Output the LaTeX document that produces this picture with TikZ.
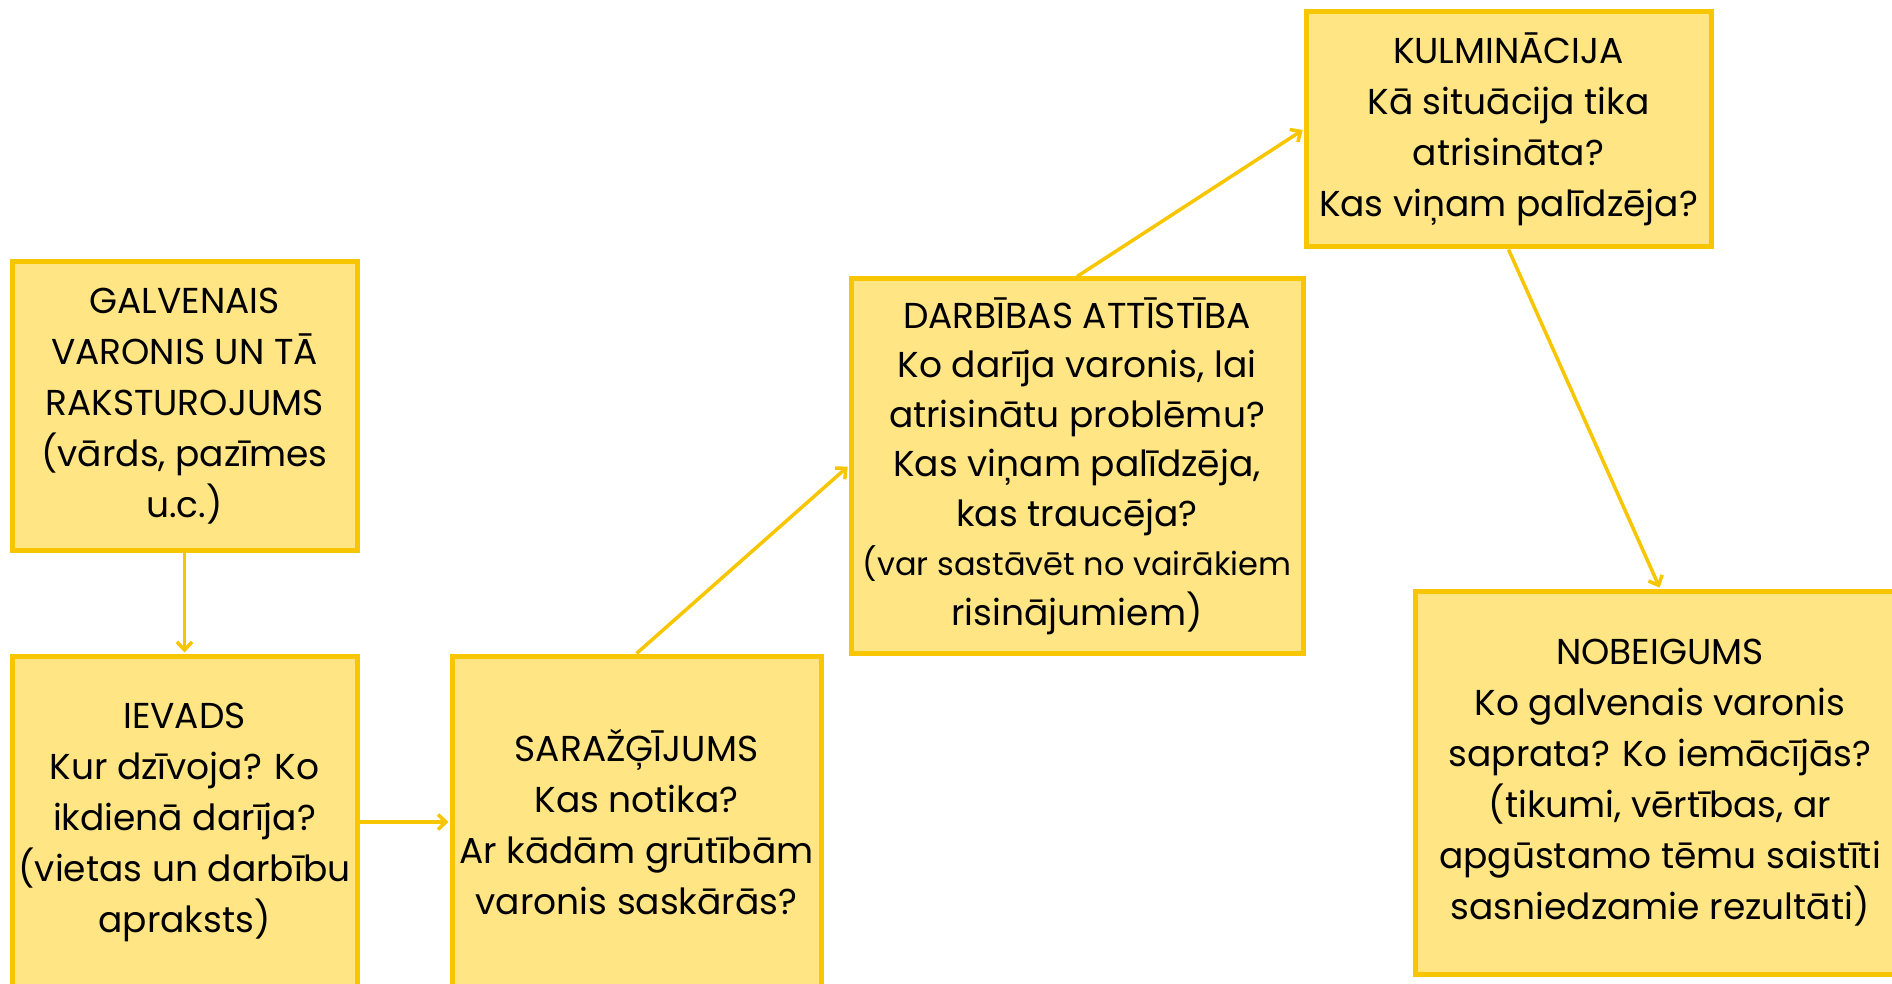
\documentclass[tikz,border=0pt]{standalone}
\usepackage{fontspec}
\setmainfont{Poppins}
\usetikzlibrary{arrows.meta}
\definecolor{boxfill}{HTML}{FFE583}
\definecolor{boxline}{HTML}{F7C600}

\begin{document}
\begin{tikzpicture}[x=1pt, y=-1pt,
  >={Straight Barb[length=8pt,width=15pt]},
  part/.style={draw=boxline, fill=boxfill, line width=5pt, align=center,
    inner sep=0pt, font=\fontsize{36}{51}\selectfont},
  conn/.style={->, color=boxline, line width=3.5pt, shorten >=1pt}]
  \useasboundingbox (0,0) rectangle (1892,984);
  \node[part, minimum width=345pt, minimum height=288pt] (gal) at (184.5,406)
    {GALVENAIS\\VARONIS UN TĀ\\RAKSTUROJUMS\\(vārds, pazīmes\\u.c.)};
  \node[part, minimum width=345pt, minimum height=332pt] (iev) at (184.5,822)
    {IEVADS\\Kur dzīvoja? Ko\\ikdienā darīja?\\(vietas un darbību\\apraksts)};
  \node[part, minimum width=369pt, minimum height=332pt] (sar) at (636.5,822)
    {SARAŽĢĪJUMS\\Kas notika?\\Ar kādām grūtībām\\varonis saskārās?};
  \node[part, minimum width=452pt, minimum height=374pt, font=\fontsize{36}{49.5}\selectfont] (dar) at (1077,466)
    {DARBĪBAS ATTĪSTĪBA\\Ko darīja varonis, lai\\atrisinātu problēmu?\\Kas viņam palīdzēja,\\kas traucēja?\\
     \fontsize{32}{45}\selectfont (var sastāvēt no vairākiem\\risinājumiem)};
  \node[part, minimum width=405pt, minimum height=235pt] (kul) at (1508.5,129.5)
    {KULMINĀCIJA\\Kā situācija tika\\atrisināta?\\Kas viņam palīdzēja?};
  \node[part, minimum width=490pt, minimum height=383pt] (nob) at (1660,782.5)
    {NOBEIGUMS\\Ko galvenais varonis\\saprata? Ko iemācījās?\\(tikumi, vērtības, ar\\apgūstamo tēmu saistīti\\sasniedzamie rezultāti)};

  \path[conn]
  (gal) edge (iev)
  (iev) edge (sar)
  (sar.north) edge (dar.west)
  (dar.north) edge (kul.west)
  (kul.south) edge (nob.north)
  ;
\end{tikzpicture}
\end{document}
